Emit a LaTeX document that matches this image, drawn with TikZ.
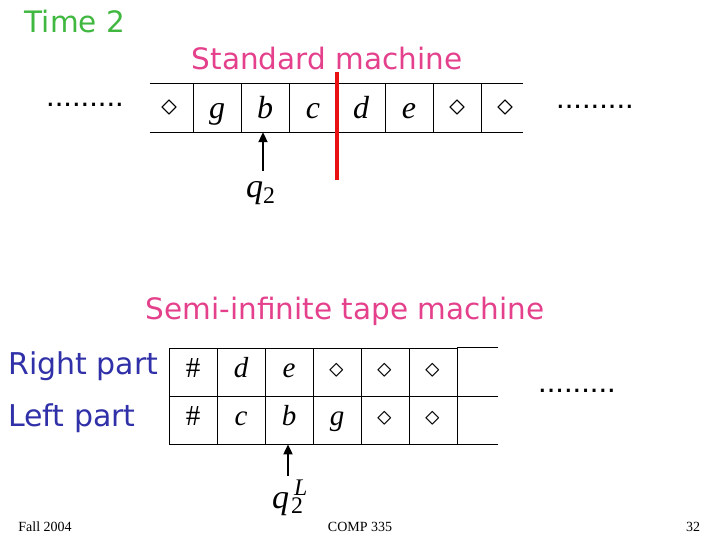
\RequirePackage{fix-cm}
\documentclass[tikz,border=0pt]{standalone}
\usepackage{fontspec}
\setmainfont{Liberation Serif}
\newfontfamily\handfont{DejaVu Sans}
\newfontfamily\dotfont{Liberation Sans}
\usetikzlibrary{arrows.meta, positioning}

\definecolor{timegreen}{RGB}{64,184,64}
\definecolor{titlepink}{RGB}{228,64,140}
\definecolor{partblue}{RGB}{48,48,168}
\definecolor{cutred}{RGB}{232,16,16}

\newcommand{\blanktop}{\raisebox{3pt}{$\diamond$}}

\tikzset{
    tapecell/.style={minimum width=48pt, minimum height=48pt, inner sep=0pt,
        text height=30pt, text depth=8pt, font=\fontsize{32}{36}\selectfont},
    trackcell/.style={minimum width=48pt, minimum height=48pt, inner sep=0pt,
        text height=18pt, text depth=8pt, draw=black, line width=0.8pt,
        font=\fontsize{29}{34}\selectfont},
    heading/.style={font=\handfont\fontsize{29.5}{34}\selectfont, inner sep=0pt},
    partlabel/.style={font=\handfont\fontsize{30}{34}\selectfont, text=partblue,
        anchor=west, inner sep=0pt},
    dots/.style={font=\dotfont\fontsize{31}{34}\selectfont},
    statelabel/.style={font=\fontsize{34}{38}\selectfont\itshape, inner sep=0pt,
        anchor=base west},
    footer/.style={font=\fontsize{14}{16}\selectfont},
    headarrow/.style={line width=2pt, -{Triangle[length=10pt, width=9pt]}},
}

\begin{document}
\begin{tikzpicture}[x=1pt, y=-1pt]
    \useasboundingbox (0,0) rectangle (720,540);

    % time step and titles
    \node[heading, text=timegreen] (time) at (75,22) {Time 2};
    \node[heading, text=titlepink] (stdtitle) at (327,59) {Standard machine};
    \node[heading, text=titlepink] (semititle) at (345,311) {Semi-infinite tape machine};

    % standard tape
    \foreach \sym [count=\i] in {\blanktop, {\itshape g}, {\itshape b}, {\itshape c},
            {\itshape d}, {\itshape e}, \blanktop, \blanktop}
        \node[tapecell] (s\i) at ({169+48*(\i-1)},108) {\sym};
    \draw[line width=0.8pt] ([xshift=5pt]s1.north west) -- ([xshift=-6pt]s8.north east);
    \draw[line width=0.8pt] ([xshift=5pt]s1.south west) -- ([xshift=-6pt]s8.south east);
    \foreach \i in {1,...,7}
        \draw[line width=0.8pt] (s\i.north east) -- (s\i.south east);
    \node[dots, anchor=base] (dotsl) at (85,107) {.........};
    \node[dots, anchor=base] (dotsr) at (595,109) {.........};

    % split point
    \coordinate (cuttop) at ([yshift=12pt]s4.north east);
    \coordinate (cutbot) at ([yshift=-48pt]s4.south east);
    \draw[cutred, line width=4pt] (cuttop) -- (cutbot);

    \node[statelabel] (q2) at (246,198) {q\textsubscript{\upshape 2}};
    \draw[headarrow, shorten <=11pt] ([xshift=-2pt]s3.south |- q2.north)
        -- ([xshift=-2pt]s3.south);

    % semi-infinite tape, two tracks
    \node[partlabel] (rightlbl) at (8,366) {Right part};
    \node[partlabel] (leftlbl) at (8,418) {Left part};
    \foreach \sym [count=\i] in {\#, {\itshape d}, {\itshape e}, $\diamond$, $\diamond$, $\diamond$}
        \node[trackcell] (r\i) at ({193+48*(\i-1)},372) {\sym};
    \foreach \sym [count=\i] in {\#, {\itshape c}, {\itshape b}, {\itshape g}, $\diamond$, $\diamond$}
        \node[trackcell] (l\i) at ({193+48*(\i-1)},420) {\sym};
    \coordinate (rend) at ([xshift=41pt]r6.north east);
    \coordinate (mend) at ([xshift=41pt]r6.south east);
    \coordinate (lend) at ([xshift=41pt]l6.south east);
    \draw[line width=0.8pt] (r6.north east) -- (rend);
    \draw[line width=0.8pt] (r6.south east) -- (mend);
    \draw[line width=0.8pt] (l6.south east) -- (lend);
    \node[dots, anchor=base] (dotsb) at (577,392) {.........};

    \node[statelabel] (q2L) at (272,508)
        {q\kern2pt\rlap{\textsubscript{\upshape 2}}\kern3pt\textsuperscript{L}};
    \draw[headarrow, shorten <=4pt] ([xshift=-1pt]l3.south |- q2L.north)
        -- ([xshift=-1pt]l3.south);

    % footer
    \node[footer] (fall) at (45,527) {Fall 2004};
    \node[footer] (course) at (360,527) {COMP 335};
    \node[footer] (page) at (693,527) {32};
\end{tikzpicture}
\end{document}
